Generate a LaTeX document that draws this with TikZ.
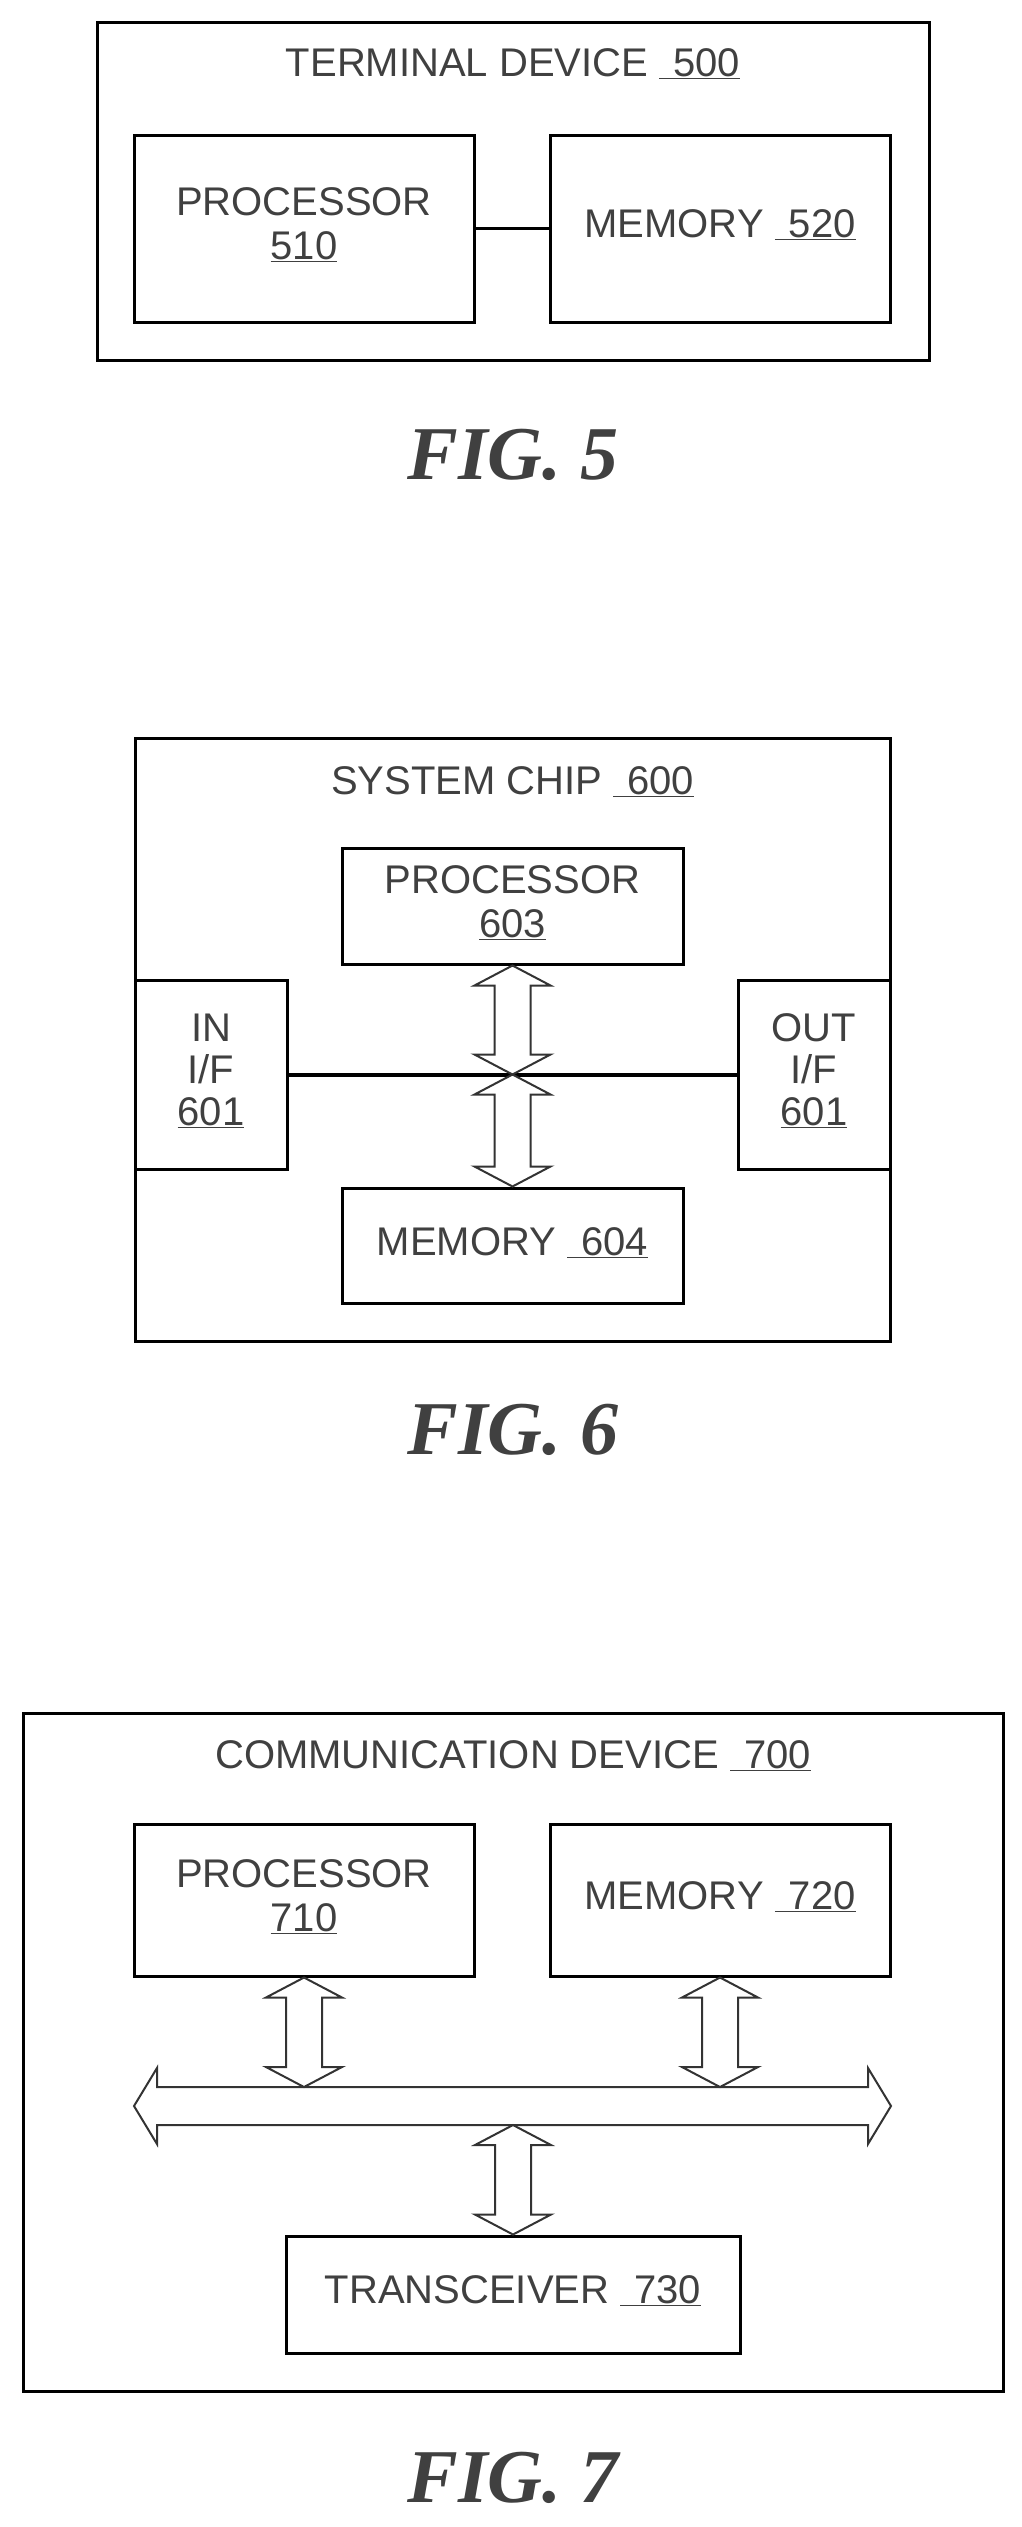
\documentclass[tikz,border=0pt]{standalone}
\usepackage{fontspec}
\setmainfont{Liberation Sans}
\newfontfamily\figfont{Liberation Serif}
\usetikzlibrary{calc}
\newcommand\un[1]{\underline{\hspace{0.35em}#1}}
\newcommand\vdbl[2]{\draw[fat] let \p1=(#1),\p2=(#2) in
 (\x1,\y1) -- (\x1+38pt,\y1-20pt) -- (\x1+18pt,\y1-20pt) -- (\x1+18pt,\y2+20pt) -- (\x1+38pt,\y2+20pt) -- (\x1,\y2)
 -- (\x1-38pt,\y2+20pt) -- (\x1-18pt,\y2+20pt) -- (\x1-18pt,\y1-20pt) -- (\x1-38pt,\y1-20pt) -- cycle;}
\newcommand\hdbl[2]{\draw[fat] let \p1=(#1),\p2=(#2) in
 (\x1,\y1) -- (\x1+23pt,\y1+38pt) -- (\x1+23pt,\y1+19pt) -- (\x2-23pt,\y1+19pt) -- (\x2-23pt,\y1+38pt) -- (\x2,\y1)
 -- (\x2-23pt,\y1-38pt) -- (\x2-23pt,\y1-19pt) -- (\x1+23pt,\y1-19pt) -- (\x1+23pt,\y1-38pt) -- cycle;}
\begin{document}
\begin{tikzpicture}[x=1pt,y=-1pt,
 box/.style={draw=black,line width=3pt,rectangle,inner sep=0pt},
 txt/.style={text=black!75,font=\fontsize{40}{44}\selectfont,align=center,inner sep=0pt},
 fig/.style={text=black!75,font=\figfont\bfseries\itshape\fontsize{76}{76}\selectfont,inner sep=0pt},
 fat/.style={draw=black!80,line width=2pt,fill=white,line join=miter}]
\useasboundingbox (0,0) rectangle (1021,2527);
% FIG 5
\node[box,minimum width=832,minimum height=338] (t500) at (513,191) {};
\node[txt] (t500l) at (513,64) {TERMINAL DEVICE \un{500}};
\node[box,minimum width=340,minimum height=187] (p510) at (304,228.5) {};
\node[txt] (p510l) at (304,225) {PROCESSOR\\\underline{510}};
\node[box,minimum width=340,minimum height=187] (m520) at (720,228.5) {};
\node[txt] (m520l) at (720,225) {MEMORY \un{520}};
\draw[line width=3pt] (p510.east) -- (m520.west);
\node[fig] (f5) at (513,455) {FIG. 5};
% FIG 6
\node[box,minimum width=755,minimum height=603] (s600) at (512.5,1039.5) {};
\node[txt] (s600l) at (512.5,782) {SYSTEM CHIP \un{600}};
\node[box,minimum width=341,minimum height=116] (p603) at (512.5,906) {};
\node[txt] (p603l) at (512.5,903) {PROCESSOR\\\underline{603}};
\node[box,minimum width=341,minimum height=115] (m604) at (512.5,1245.5) {};
\node[txt] (m604l) at (512.5,1243) {MEMORY \un{604}};
\node[box,minimum width=152,minimum height=189] (in601) at (211,1074.5) {};
\node[txt,font=\fontsize{40}{42}\selectfont] (in601l) at (211,1071) {IN\\I/F\\\underline{601}};
\node[box,minimum width=152,minimum height=189] (out601) at (814,1074.5) {};
\node[txt,font=\fontsize{40}{42}\selectfont] (out601l) at (814,1071) {OUT\\I/F\\\underline{601}};
\draw[line width=4pt] (in601.east) -- (out601.west);
\coordinate (x6) at (512.5,1074.5);
\vdbl{p603.south}{x6}
\vdbl{x6}{m604.north}
\node[fig] (f6) at (513,1430) {FIG. 6};
% FIG 7
\node[box,minimum width=980,minimum height=678] (c700) at (513,2052) {};
\node[txt] (c700l) at (513,1756) {COMMUNICATION DEVICE \un{700}};
\node[box,minimum width=340,minimum height=152] (p710) at (304,1900) {};
\node[txt] (p710l) at (304,1897) {PROCESSOR\\\underline{710}};
\node[box,minimum width=340,minimum height=152] (m720) at (720,1900) {};
\node[txt] (m720l) at (720,1897) {MEMORY \un{720}};
\node[box,minimum width=454,minimum height=117] (t730) at (513,2294.5) {};
\node[txt] (t730l) at (513,2291) {TRANSCEIVER \un{730}};
\coordinate (busL) at (134,2106);
\coordinate (busR) at (891,2106);
\coordinate (busT) at (513,2087);
\coordinate (busB) at (513,2125);
\hdbl{busL}{busR}
\vdbl{p710.south}{p710.south |- busT}
\vdbl{m720.south}{m720.south |- busT}
\vdbl{busB}{t730.north}
\node[fig] (f7) at (513,2478) {FIG. 7};
\end{tikzpicture}
\end{document}
